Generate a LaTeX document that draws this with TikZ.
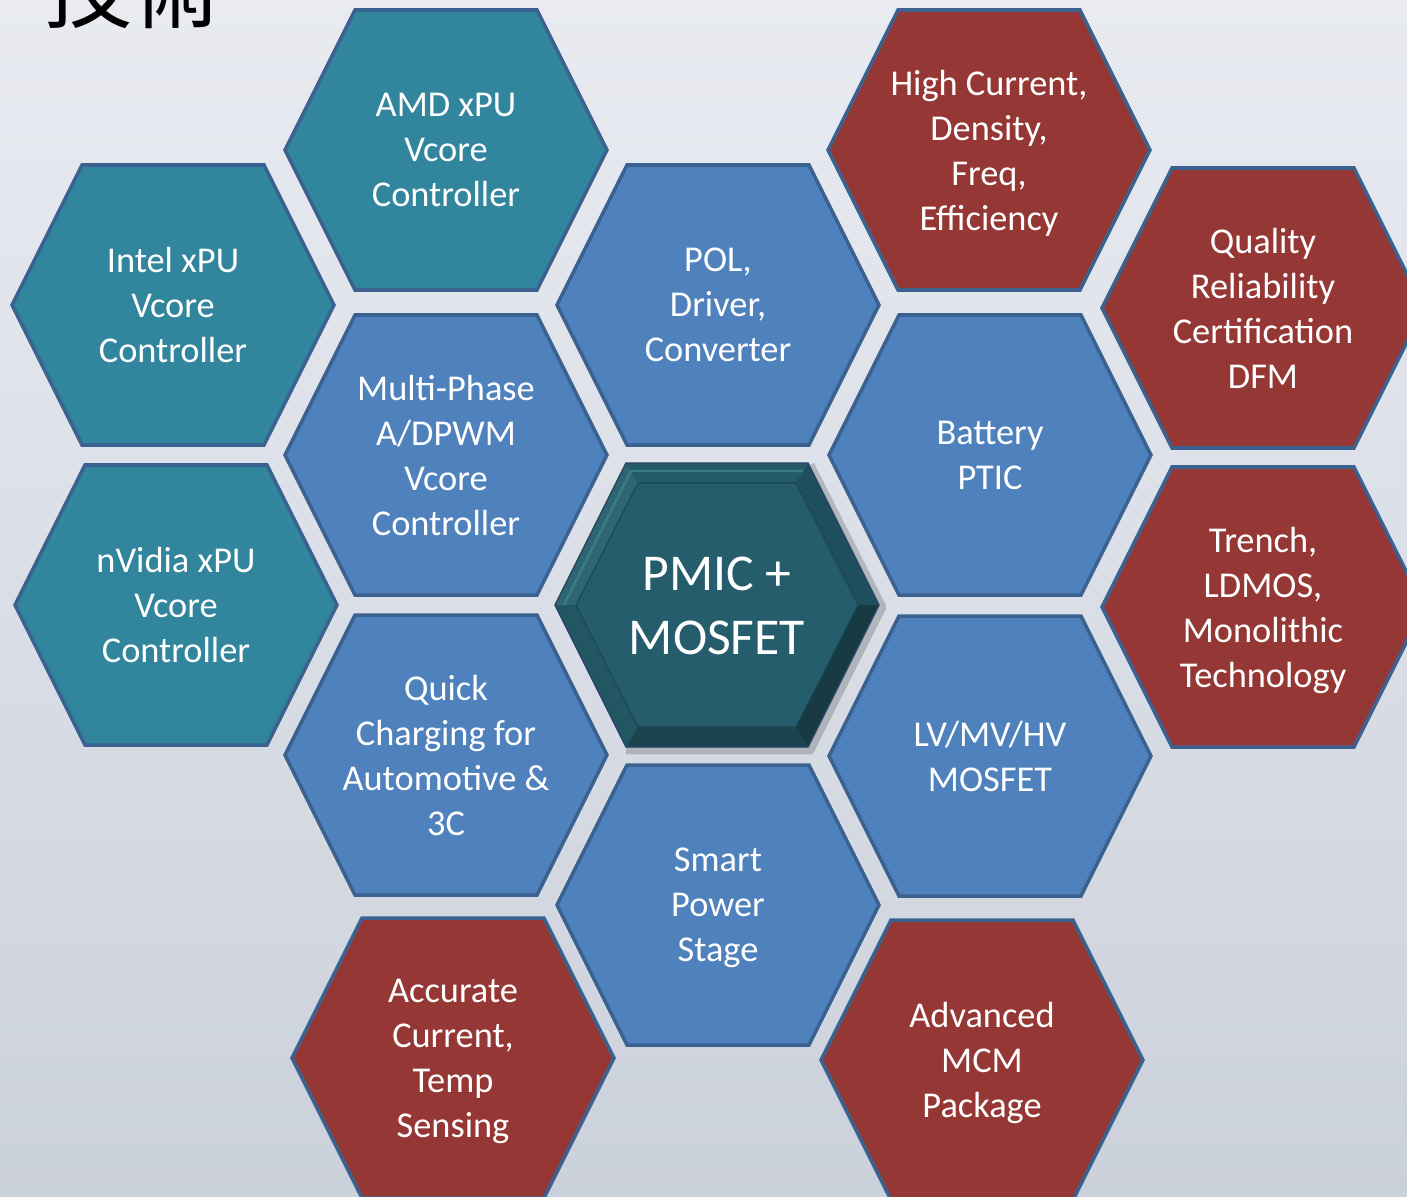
\documentclass[tikz,border=0pt]{standalone}
\usepackage{fontspec}
\setmainfont{Carlito}
\newfontfamily\cjkfont{Noto Sans CJK TC}
\usepackage{tikz}
\usetikzlibrary{calc}

\definecolor{hexteal}{HTML}{31859C}
\definecolor{hexblue}{HTML}{4F81BD}
\definecolor{hexred}{HTML}{953735}
\definecolor{hexline}{HTML}{3A6190}
\definecolor{corefill}{HTML}{255D6C}
\definecolor{corelight}{HTML}{3F8489}
\definecolor{bgtop}{HTML}{E9EBF1}
\definecolor{bgbottom}{HTML}{CBD1DB}

% one hexagon cell: name, centre, fill, label
\newcommand{\hexcell}[4]{%
  \draw[hexborder,fill=#3] (#2) ++(-161,0) -- ++(70,-140) -- ++(182,0)
       -- ++(70,140) -- ++(-70,140) -- ++(-182,0) -- cycle;
  \node[hextext] (#1) at (#2) {#4};
}

\begin{document}
\begin{tikzpicture}[x=0.02cm,y=-0.02cm,
    hexborder/.style={draw=hexline,line width=2pt,line join=miter},
    hextext/.style={text=white,align=center,inner sep=0pt,text depth=0pt,
        font=\fontsize{20.7}{25.6}\selectfont},
    coretext/.style={text=white,align=center,inner sep=0pt,text depth=0pt,
        font=\fontsize{29.4}{36.4}\selectfont}]
    \useasboundingbox (0,0) rectangle (1407,1197);
    \clip (0,0) rectangle (1407,1197);
    %background
    \shade[top color=bgtop,bottom color=bgbottom] (0,0) rectangle (1407,1197);
    \node[anchor=base west,inner sep=0pt,font=\cjkfont\fontsize{51}{51}\selectfont]
        (title) at (43,21) {技術};

    %left column
    \hexcell{intel}{173,305}{hexteal}{Intel xPU\\Vcore\\Controller}
    \hexcell{nvidia}{176,605}{hexteal}{nVidia xPU\\Vcore\\Controller}
    %second column
    \hexcell{amd}{446,150}{hexteal}{AMD xPU\\Vcore\\Controller}
    \hexcell{multi}{446,455}{hexblue}{Multi-Phase\\A/DPWM\\Vcore\\Controller}
    \hexcell{quick}{446,755}{hexblue}{Quick\\Charging for\\Automotive \&\\3C}
    \hexcell{sensing}{453,1058}{hexred}{Accurate\\Current,\\Temp\\Sensing}
    %middle column
    \hexcell{pol}{718,305}{hexblue}{POL,\\Driver,\\Converter}
    \hexcell{sps}{718,905}{hexblue}{Smart\\Power\\Stage}
    %fourth column
    \hexcell{current}{989,150}{hexred}{High Current,\\Density,\\Freq,\\Efficiency}
    \hexcell{battery}{990,455}{hexblue}{Battery\\PTIC}
    \hexcell{mosfet}{990,756}{hexblue}{LV/MV/HV\\MOSFET}
    \hexcell{mcm}{982,1060}{hexred}{Advanced\\MCM\\Package}
    %right column
    \hexcell{quality}{1263,308}{hexred}{Quality\\Reliability\\Certification\\DFM}
    \hexcell{trench}{1263,607}{hexred}{Trench,\\LDMOS,\\Monolithic\\Technology}

    %centre cell with bevel
    \begin{scope}[shift={(717,605)}]
        \foreach \n/\a/\b in {1/-162/0,2/-91/-142,3/91/-142,4/162/0,5/91/142,6/-91/142}
            \coordinate (o\n) at (\a,\b);
        \foreach \n/\a/\b in {1/-141/0,2/-79/-122,3/79/-122,4/141/0,5/79/122,6/-79/122}
            \coordinate (i\n) at (\a,\b);
        \foreach \n/\a/\b in {1/-153/0,2/-86/-134,3/86/-134}
            \coordinate (m\n) at (\a,\b);
        % soft shadow below right
        \draw[black,opacity=0.18,line width=5pt,line join=round]
            ($(o3)+(2,2)$) -- ($(o4)+(3,2)$) -- ($(o5)+(2,3)$) -- ($(o6)+(0,3)$);
        \fill[corefill] (o1) -- (o2) -- (o3) -- (o4) -- (o5) -- (o6) -- cycle;
        \fill[color=corefill!95!white] (o1) -- (o2) -- (i2) -- (i1) -- cycle;
        \fill[color=corefill!97!black] (o2) -- (o3) -- (i3) -- (i2) -- cycle;
        \fill[color=corefill!85!black] (o3) -- (o4) -- (i4) -- (i3) -- cycle;
        \fill[color=corefill!62!black] (o4) -- (o5) -- (i5) -- (i4) -- cycle;
        \fill[color=corefill!72!black] (o5) -- (o6) -- (i6) -- (i5) -- cycle;
        \fill[color=corefill!92!black] (o6) -- (o1) -- (i1) -- (i6) -- cycle;
        % highlight on the lit edges
        \draw[corelight,line width=1.2pt,opacity=0.8] (m1) -- (m2) -- (m3);
        \draw[corefill!75!black,line width=0.6pt]
            (i1) -- (i2) -- (i3) -- (i4) -- (i5) -- (i6) -- cycle;
        \draw[hexline!70!black,line width=0.8pt]
            (o1) -- (o2) -- (o3) -- (o4) -- (o5) -- (o6) -- cycle;
    \end{scope}
    \node[coretext] (core) at (717,606) {PMIC +\\MOSFET};
\end{tikzpicture}
\end{document}
